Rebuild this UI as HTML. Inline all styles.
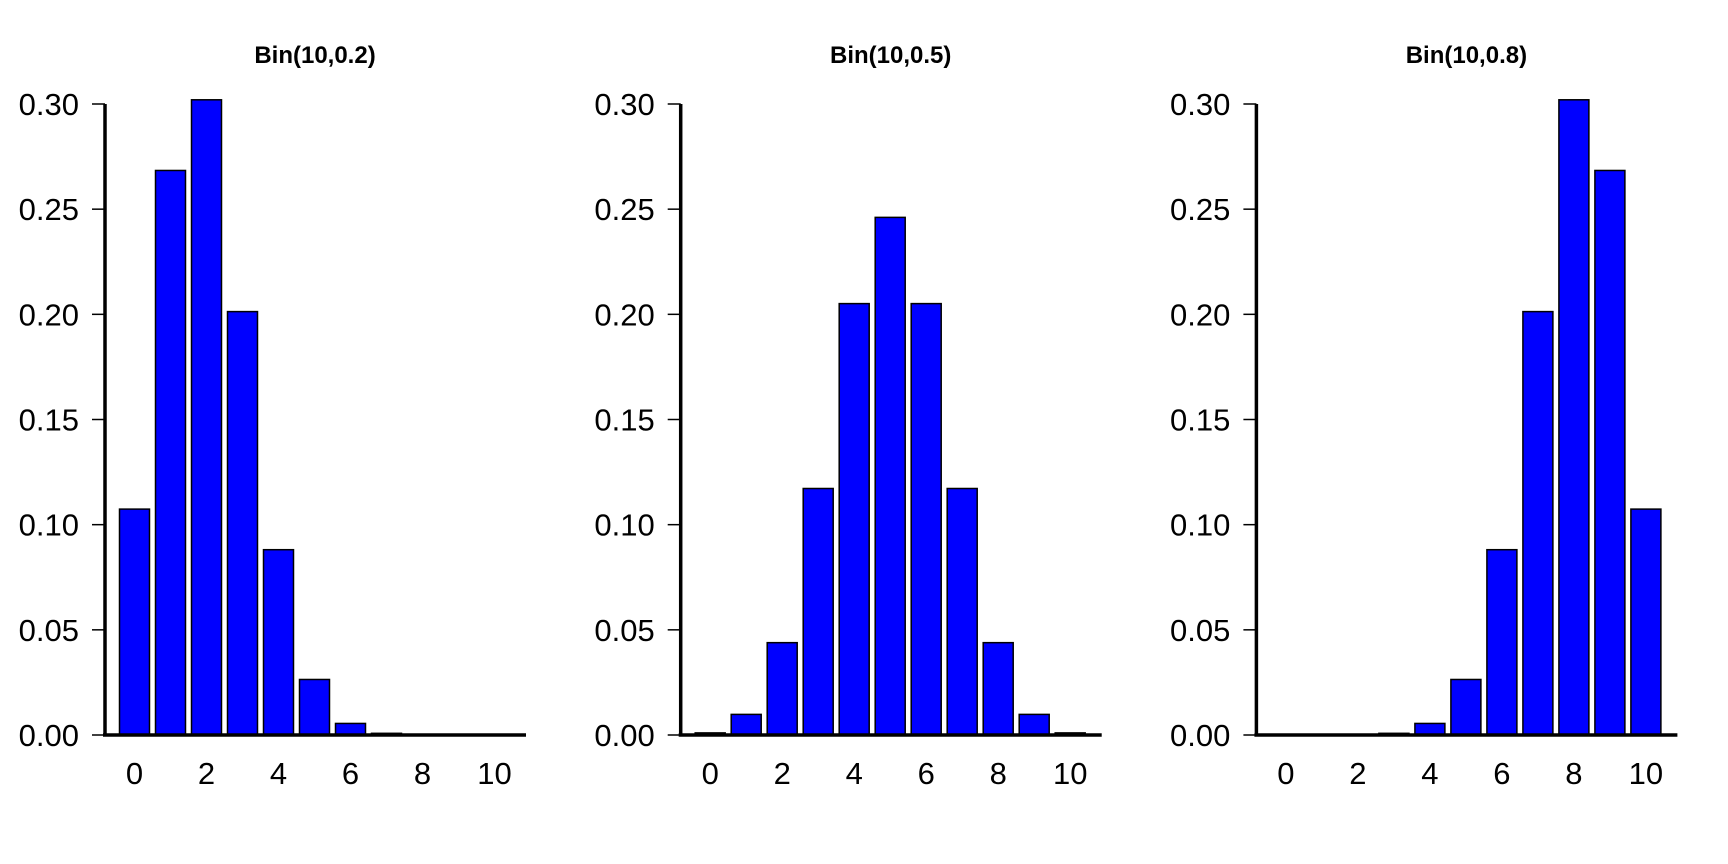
<!DOCTYPE html>
<html><head><meta charset="utf-8"><style>
html,body{margin:0;padding:0;background:#fff;}
svg{display:block;font-family:"Liberation Sans",Arial,sans-serif;}
</style></head><body>
<svg id="chart" width="1728" height="864" viewBox="0 0 1728 864" xmlns="http://www.w3.org/2000/svg"></svg>
<script>
const titles = ["Bin(10,0.2)", "Bin(10,0.5)", "Bin(10,0.8)"];
const categories = [0,1,2,3,4,5,6,7,8,9,10];
const seriesP02 = [0.1074,0.2684,0.3020,0.2013,0.0881,0.0264,0.0055,0.0008,0.0001,0.0000,0.0000];
const seriesP05 = [0.0010,0.0098,0.0439,0.1172,0.2051,0.2461,0.2051,0.1172,0.0439,0.0098,0.0010];
const seriesP08 = [0.0000,0.0000,0.0001,0.0008,0.0055,0.0264,0.0881,0.2013,0.3020,0.2684,0.1074];
const yTicks = [0,0.05,0.10,0.15,0.20,0.25,0.30];
const yTickLabels = ["0.00","0.05","0.10","0.15","0.20","0.25","0.30"];
const xTickLabels = ["0","2","4","6","8","10"];
const xTickCats = [0,2,4,6,8,10];

const NS="http://www.w3.org/2000/svg";
const svg=document.getElementById('chart');
function mk(tag,attrs,parent){const e=document.createElementNS(NS,tag);for(const k in attrs)e.setAttribute(k,attrs[k]);(parent||svg).appendChild(e);return e;}
const all=[seriesP02,seriesP05,seriesP08];
const slugs=["p02","p05","p08"];
const y0=735, y1=104, yMax=0.30;
function yS(v){return y0-(v/yMax)*(y0-y1);}
all.forEach((series,k)=>{
  const ax=105+575.7*k;
  function xS(c){return ax+14.5+36*c;}
  const g=mk('g',{});
  
  
  const t=mk('text',{x:ax+210,y:63,'text-anchor':'middle','font-size':24,'font-weight':'bold'},g);
  t.textContent=titles[k];
  
  
  series.forEach((v,i)=>{
    const top=yS(v);
    const r=mk('rect',{x:xS(categories[i]),y:top,width:30,height:Math.max(0,y0-top),fill:'#0000ff',stroke:'#000','stroke-width':1.5},g);
    
    
  });
  const ya=mk('line',{x1:ax,y1:yS(yMax),x2:ax,y2:y0+1.5,stroke:'#000','stroke-width':3.5},g);
  
  
  const xa=mk('line',{x1:ax-2,y1:y0,x2:ax+421,y2:y0,stroke:'#000','stroke-width':3.5},g);
  
  
  yTicks.forEach((v,i)=>{
    const tk=mk('line',{x1:ax-13,y1:yS(v),x2:ax,y2:yS(v),stroke:'#000','stroke-width':1.5},g);
    
    
    const l=mk('text',{x:ax-26,y:yS(v)+11,'text-anchor':'end','font-size':31},g);
    l.textContent=yTickLabels[i];
    
    
  });
  xTickCats.forEach((c,i)=>{
    const l=mk('text',{x:xS(c)+15,y:784,'text-anchor':'middle','font-size':31},g);
    l.textContent=xTickLabels[i];
    
    
  });
});
</script>
</body></html>
